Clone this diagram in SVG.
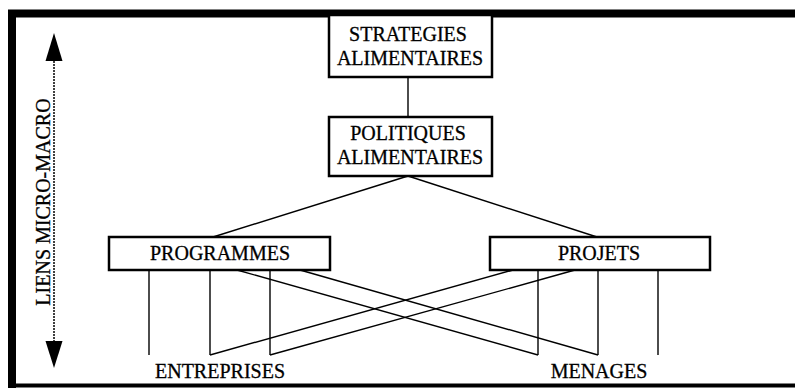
<svg xmlns="http://www.w3.org/2000/svg" width="795" height="388" viewBox="0 0 795 388">
<style>
.box{fill:#fff;stroke:#000;stroke-width:2.5}
.t{font-family:"Liberation Serif","Times New Roman",serif;font-size:20px;fill:#000;text-anchor:middle;stroke:#000;stroke-width:0.3}
.ln{stroke:#000;stroke-width:1.4;fill:none}
.ah{fill:#000}
</style>
<rect width="795" height="388" fill="#fff"/>
<g id="frame">
<line x1="8" y1="13.5" x2="795" y2="13.5" stroke="#000" stroke-width="8"/>
<line x1="12" y1="10" x2="12" y2="388" stroke="#000" stroke-width="8"/>
<line x1="8" y1="385.5" x2="795" y2="385.5" stroke="#000" stroke-width="4"/>
</g>
<g id="connectors">
<line class="ln" x1="408" y1="77" x2="408" y2="117"/>
<line class="ln" x1="408" y1="176" x2="213" y2="237"/>
<line class="ln" x1="408" y1="176" x2="597" y2="237"/>
<line class="ln" x1="149" y1="270" x2="149" y2="355"/>
<line class="ln" x1="210" y1="270" x2="210" y2="355"/>
<line class="ln" x1="270" y1="270" x2="270" y2="355"/>
<line class="ln" x1="538" y1="270" x2="538" y2="355"/>
<line class="ln" x1="598" y1="270" x2="598" y2="355"/>
<line class="ln" x1="658" y1="270" x2="658" y2="355"/>
<line class="ln" x1="210" y1="355" x2="513" y2="270"/>
<line class="ln" x1="270" y1="355" x2="575" y2="270"/>
<line class="ln" x1="237" y1="270" x2="538" y2="355"/>
<line class="ln" x1="300" y1="270" x2="598" y2="355"/>
</g>
<g id="axis">
<line x1="54" y1="58" x2="54" y2="345" stroke="#000" stroke-width="1.5" stroke-dasharray="2 1"/>
<path class="ah" d="M54,33 L62.5,61 L45.5,61 Z"/>
<path class="ah" d="M54,368 L62.5,341 L45.5,341 Z"/>
<text class="t" transform="translate(50,202) rotate(-90)">LIENS MICRO-MACRO</text>
</g>
<g id="strategies">
<rect class="box" x="329" y="15" width="163" height="62"/>
<text class="t" x="408" y="41">STRATEGIES</text>
<text class="t" x="410" y="65">ALIMENTAIRES</text>
</g>
<g id="politiques">
<rect class="box" x="329" y="117" width="163" height="59"/>
<text class="t" x="408" y="140">POLITIQUES</text>
<text class="t" x="410" y="164">ALIMENTAIRES</text>
</g>
<g id="programmes">
<rect class="box" x="109" y="237" width="221" height="33"/>
<text class="t" x="220" y="260">PROGRAMMES</text>
</g>
<g id="projets">
<rect class="box" x="490" y="237" width="220" height="33"/>
<text class="t" x="599" y="260">PROJETS</text>
</g>
<g id="entreprises">
<text class="t" x="220" y="378">ENTREPRISES</text>
</g>
<g id="menages">
<text class="t" x="599" y="378">MENAGES</text>
</g>
</svg>
